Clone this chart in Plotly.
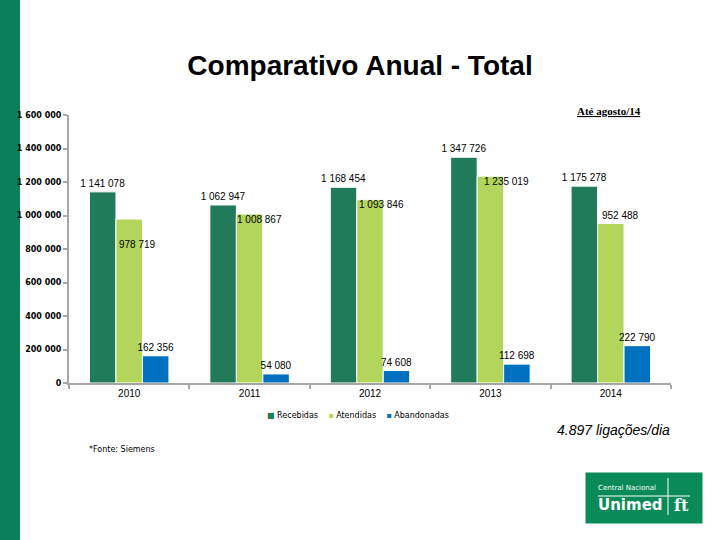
import plotly.graph_objects as go

# ---- data ----
years = ["2010", "2011", "2012", "2013", "2014"]
recebidas = [1141078, 1062947, 1168454, 1347726, 1175278]
atendidas = [978719, 1008867, 1093846, 1235019, 952488]
abandonadas = [162356, 54080, 74608, 112698, 222790]
series_names = ["Recebidas", "Atendidas", "Abandonadas"]
y_ticks = [0, 200000, 400000, 600000, 800000, 1000000, 1200000, 1400000, 1600000]

# label offsets (pixels) for the "Atendidas" values, as placed in the original
atend_dx = [8, 10, 11, 16, 10]
atend_dy = [-25, -5, -5, -5, 8]

C_REC = "#217a59"
C_ATE = "#b3d55b"
C_ABA = "#0070c0"
C_STRIP = "#0a7f5a"
AXIS = "#a6a6a6"

W, H = 720, 540
L, R, T, B = 69, 671, 115, 383  # plot area in pixels


def px(xp, yp):
    return (xp - L) / (R - L), (B - yp) / (B - T)


fig = go.Figure()
fig.add_trace(go.Bar(
    name=series_names[0], x=years, y=recebidas, marker=dict(color=C_REC, line=dict(color="white", width=1)),
    texttemplate="%{y:,}", textposition="outside", constraintext="none", cliponaxis=False,
    textfont=dict(family="Liberation Sans, Arial", size=10, color="black")))
fig.add_trace(go.Bar(
    name=series_names[1], x=years, y=atendidas, marker=dict(color=C_ATE, line=dict(color="white", width=1))))
fig.add_trace(go.Bar(
    name=series_names[2], x=years, y=abandonadas, marker=dict(color=C_ABA, line=dict(color="white", width=1)),
    texttemplate="%{y:,}", textposition="outside", constraintext="none", cliponaxis=False,
    textfont=dict(family="Liberation Sans, Arial", size=10, color="black")))

annotations = []
for i, (v, dx, dy) in enumerate(zip(atendidas, atend_dx, atend_dy)):
    annotations.append(dict(
        x=i, y=v, xref="x", yref="y", text=f"{v:,}".replace(",", " "), showarrow=False,
        xshift=dx, yshift=dy, xanchor="center", yanchor="middle",
        font=dict(family="Liberation Sans, Arial", size=10, color="black")))


def pann(text, xp, yp, xanchor, size, family, color="black"):
    x, y = px(xp, yp)
    return dict(text=text, x=x, y=y, xref="paper", yref="paper", showarrow=False,
                xanchor=xanchor, yanchor="middle", font=dict(family=family, size=size, color=color))


legend_text = (
    f"<span style='color:{C_REC}'>■</span> {series_names[0]}    "
    f"<span style='color:{C_ATE}'>▪</span> {series_names[1]}    "
    f"<span style='color:{C_ABA}'>▪</span> {series_names[2]}"
)

annotations += [
    pann(legend_text, 358, 415, "center", 8, "DejaVu Sans"),
    pann("<u><b>Até agosto/14</b></u>", 643, 111, "right", 11, "Liberation Serif, Times New Roman"),
    pann("<i>4.897 ligações/dia</i>", 672, 430, "right", 14, "Liberation Sans, Arial"),
    pann("*Fonte: Siemens", 87, 449, "left", 8, "DejaVu Sans"),
    pann("Central Nacional", 627, 488, "center", 7, "DejaVu Sans", "white"),
    pann("<b>Unimed</b>", 630, 505, "center", 15, "DejaVu Sans", "white"),
    pann("<b>ft</b>", 681, 505, "center", 16, "DejaVu Serif", "white"),
]

shapes = []
sx0, sy0 = px(0, 540)
sx1, sy1 = px(20, 0)
shapes.append(dict(type="rect", xref="paper", yref="paper", x0=sx0, x1=sx1, y0=sy0, y1=sy1,
                   fillcolor=C_STRIP, line=dict(width=0), layer="below"))
lx0, ly0 = px(587, 522)
lx1, ly1 = px(701, 474)
shapes.append(dict(type="rect", xref="paper", yref="paper", x0=lx0, x1=lx1, y0=ly0, y1=ly1,
                   fillcolor="#0b8a59", line=dict(color="#0b8a59", width=3), layer="above"))
vx, vy0 = px(668, 478)
_, vy1 = px(668, 515)
shapes.append(dict(type="line", xref="paper", yref="paper", x0=vx, x1=vx, y0=vy0, y1=vy1,
                   line=dict(color="white", width=1)))
hx0, hy = px(598, 496)
hx1, _ = px(690, 496)
shapes.append(dict(type="line", xref="paper", yref="paper", x0=hx0, x1=hx1, y0=hy, y1=hy,
                   line=dict(color="white", width=1)))

fig.update_layout(
    width=W, height=H,
    margin=dict(l=L, r=W - R, t=T, b=H - B, autoexpand=False),
    paper_bgcolor="white", plot_bgcolor="white",
    separators=", ",
    barmode="group", bargap=0.34, bargroupgap=0,
    title=dict(text="<b>Comparativo Anual - Total</b>", x=0.5, xref="container", xanchor="center",
               y=1 - 65 / H, yref="container", yanchor="middle",
               font=dict(family="Liberation Sans, Arial", size=28, color="black")),
    showlegend=False,
    xaxis=dict(type="category", range=[-0.5, 4.5], showline=True, linecolor=AXIS, linewidth=2,
               ticks="outside", tickson="boundaries", ticklen=4, tickcolor=AXIS, tickwidth=2,
               tickfont=dict(family="Liberation Sans, Arial", size=10, color="black"), showgrid=False),
    yaxis=dict(range=[0, 1600000], tickvals=y_ticks, tickformat=",d", showline=True, linecolor=AXIS,
               linewidth=2, ticks="outside", ticklen=4, tickcolor=AXIS, tickwidth=2, showgrid=False,
               zeroline=False,
               tickfont=dict(family="DejaVu Sans", size=8, color="black", weight="bold")),
    annotations=annotations,
    shapes=shapes,
)

fig.write_html("out.html", config={"displayModeBar": False},
               post_script="document.body.style.margin='0';document.body.style.overflow='hidden';")
